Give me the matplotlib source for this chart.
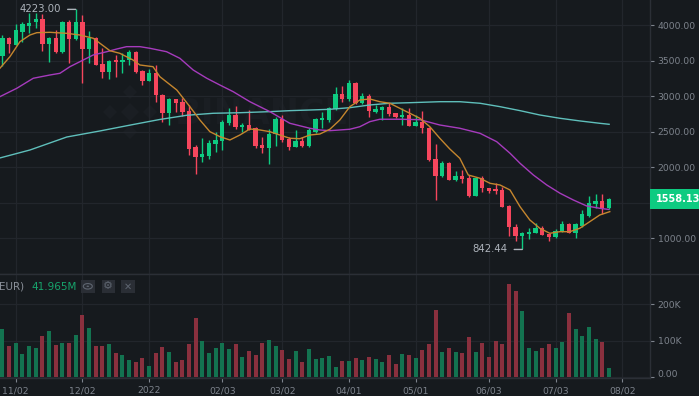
import numpy as np
import pandas as pd
import matplotlib
matplotlib.use("Agg")
import matplotlib.pyplot as plt
import matplotlib.dates as mdates
from matplotlib.patches import Rectangle, Polygon, Ellipse, Circle

# ---------------- data ----------------
base_date = pd.Timestamp("2021-11-02")
candle_dates = pd.date_range("2021-10-27", periods=92, freq="3D")

opens = [3570, 3820, 3722, 3909, 3990, 4045, 4093, 3733, 3816, 3619,
         4041, 3802, 4050, 3665, 3816, 3450, 3346, 3505, 3478, 3510,
         3627, 3356, 3219, 3332, 3018, 2768, 2957, 2923, 2792, 2281,
         2149, 2158, 2328, 2370, 2619, 2736, 2571, 2595, 2549, 2314,
         2276, 2469, 2676, 2394, 2290, 2374, 2300, 2501, 2666, 2666,
         2816, 3032, 2957, 3191, 2901, 3004, 2783, 2806, 2844, 2760,
         2704, 2736, 2581, 2642, 2557, 2112, 1877, 2064, 1821, 1877,
         1853, 1596, 1853, 1704, 1690, 1680, 1460, 1160, 1032, 1060,
         1079, 1141, 1056, 1014, 1093, 1201, 1079, 1173, 1314, 1483,
         1525, 1422]
highs = [3860, 3830, 4017, 4045, 4176, 4176, 4158, 3839, 3933, 4060,
         4074, 4223, 4144, 3923, 3835, 3675, 3510, 3581, 3613, 3651,
         3641, 3369, 3379, 3440, 3025, 2970, 2965, 2970, 2877, 2314,
         2416, 2384, 2501, 2666, 2830, 2863, 2628, 2806, 2560, 2422,
         2535, 2712, 2736, 2431, 2525, 2431, 2549, 2690, 2783, 2844,
         3126, 3144, 3229, 3205, 3042, 3032, 2877, 2863, 2909, 2769,
         2830, 2830, 2736, 2792, 2565, 2324, 2088, 2070, 1952, 1961,
         1891, 1860, 1877, 1710, 1783, 1718, 1469, 1201, 1093, 1141,
         1211, 1173, 1060, 1127, 1248, 1210, 1210, 1398, 1596, 1620,
         1624, 1570]
lows = [3420, 3605, 3720, 3768, 3886, 3956, 3630, 3487, 3605, 3605,
        3464, 3795, 3182, 3473, 3435, 3253, 3243, 3275, 3323, 3440,
        3332, 3158, 3210, 2923, 2642, 2595, 2783, 2722, 2173, 1905,
        2079, 2112, 2219, 2243, 2595, 2535, 2501, 2520, 2276, 2205,
        2046, 2300, 2360, 2243, 2285, 2281, 2290, 2487, 2549, 2642,
        2806, 2923, 2937, 2891, 2887, 2712, 2760, 2666, 2722, 2700,
        2595, 2575, 2575, 2487, 2095, 1539, 1863, 1815, 1811, 1783,
        1586, 1590, 1656, 1634, 1624, 1436, 1032, 966, 842.44, 986,
        1075, 1040, 962, 1000, 1088, 1070, 1000, 1165, 1305, 1422,
        1338, 1410]
closes = [3820, 3730, 3933, 4017, 4036, 4093, 3733, 3816, 3619, 4041,
          3802, 4050, 3665, 3825, 3440, 3346, 3496, 3480, 3510, 3627,
          3346, 3219, 3332, 3018, 2768, 2961, 2909, 2783, 2257, 2149,
          2183, 2346, 2384, 2642, 2736, 2563, 2595, 2525, 2300, 2276,
          2469, 2676, 2384, 2290, 2374, 2300, 2525, 2676, 2698, 2830,
          3032, 2957, 3191, 2901, 3004, 2797, 2816, 2844, 2746, 2704,
          2736, 2581, 2642, 2549, 2102, 1877, 2064, 1821, 1877, 1839,
          1596, 1853, 1704, 1670, 1666, 1445, 1160, 1032, 1079, 1093,
          1141, 1046, 1023, 1107, 1201, 1079, 1201, 1338, 1493, 1525,
          1422, 1558.13]
volumes_k = [132, 85, 95, 64, 86, 79, 113, 127, 88, 95,
             94, 116, 171, 134, 86, 86, 91, 67, 60, 47,
             41, 52, 30, 67, 82, 68, 41, 47, 92, 162,
             99, 66, 79, 93, 77, 91, 56, 72, 61, 95,
             103, 86, 75, 50, 73, 41, 78, 50, 54, 59,
             28, 45, 45, 52, 47, 55, 49, 41, 61, 36,
             65, 60, 53, 74, 91, 185, 68, 81, 70, 66,
             111, 69, 94, 55, 99, 90, 256, 236, 182, 81,
             71, 79, 92, 80, 97, 176, 132, 113, 137, 105,
             97, 26]

# moving averages (day offset from 2021-11-02, value)
ma7_days = [-7.1, -2.6, 1.9, 6.4, 9.5, 15.4, 22.9, 28.9, 34.9, 37.9, 42.4, 46.9,
            52.8, 55.9, 61.8, 64.9, 72.5, 78.4, 82.9, 87.4, 91.9, 96.4, 100.9,
            105.4, 109.9, 114.4, 118.9, 123.4, 127.9, 132.4, 136.9, 141.4, 145.9,
            150.4, 154.9, 159.4, 163.9, 168.4, 172.9, 177.4, 181.9, 186.4, 190.9,
            195.4, 199.9, 203.7, 209, 213.5, 218, 222.5, 227, 231.4, 235.9, 240.4,
            244.9, 249.4, 253.9, 258.4, 262.9, 267.4]
ma7_vals = [3394, 3557, 3768, 3862, 3895, 3900, 3886, 3862, 3816, 3746, 3641, 3604,
            3510, 3440, 3416, 3275, 3088, 2853, 2666, 2501, 2431, 2384, 2454,
            2539, 2525, 2501, 2454, 2408, 2402, 2454, 2468, 2535, 2666,
            2853, 2947, 2961, 2923, 2901, 2830, 2760, 2690, 2571, 2408,
            2257, 2126, 1891, 1845, 1774, 1750, 1680, 1445, 1258, 1141, 1070,
            1093, 1093, 1141, 1234, 1328, 1375]
ma25_days = [-7.1, 0.5, 7.9, 15.4, 19.9, 24.4, 30.4, 34.9, 41, 45.5, 49.9, 55.9,
             60.4, 67.9, 73.9, 79.9, 86, 91.9, 97.9, 105.4, 114.4, 123.4, 132.4,
             136.9, 141.4, 150.4, 154.9, 159.4, 163.9, 172.9, 181.9, 190.9, 199.9,
             209, 216.5, 222.5, 227, 233, 239, 245, 251, 257, 262.9, 267]
ma25_vals = [2994, 3112, 3253, 3299, 3323, 3416, 3510, 3581, 3627, 3665, 3698, 3698,
             3675, 3627, 3534, 3369, 3253, 3158, 3064, 2923, 2783, 2619, 2549,
             2525, 2515, 2535, 2571, 2642, 2676, 2676, 2670, 2595, 2549,
             2478, 2360, 2197, 2056, 1891, 1751, 1634, 1539, 1455, 1422, 1406]
ma99_days = [-7.1, 6.4, 23, 37.9, 52.9, 64.9, 77, 88.9, 100.9, 114.4, 123.4, 132.4,
             141.4, 150.4, 159.4, 168.4, 177.4, 190.9, 199.9, 209, 218, 227,
             235.9, 244.9, 254, 262.9, 267.1]
ma99_vals = [2131, 2243, 2426, 2511, 2602, 2673, 2732, 2760, 2768, 2783, 2797, 2806,
             2816, 2839, 2877, 2901, 2909, 2923, 2923, 2901, 2853, 2797,
             2736, 2690, 2652, 2619, 2605]

tick_dates = ["2021-11-02", "2021-12-02", "2022-01-01", "2022-02-03", "2022-03-02",
              "2022-04-01", "2022-05-01", "2022-06-03", "2022-07-03", "2022-08-02"]
tick_labels = ["11/02", "12/02", "2022", "02/03", "03/02", "04/01", "05/01",
               "06/03", "07/03", "08/02"]
price_ticks = [1000, 2000, 2500, 3000, 3500, 4000]
price_grid = [1000, 1500, 2000, 2500, 3000, 3500, 4000]
vol_ticks = [0, 100000, 200000]
vol_tick_labels = ["0.00", "100K", "200K"]
last_price_label = "1558.13"
vol_legend_value = "41.965M"

# ---------------- style ----------------
BG = "#161a1e"
GRID = "#22262c"
LINE = "#2b2f36"
TXT = "#7d838c"
UP = "#0ecb81"
DOWN = "#f6465d"
UP_V = "#137350"
DOWN_V = "#8a303e"
C_MA7 = "#c5862e"
C_MA25 = "#a63bbd"
C_MA99 = "#5fbfbb"
WM = "#1a1e23"

W, H = 699, 396
fig = plt.figure(figsize=(W / 100, H / 100), dpi=100, facecolor=BG)
plt.rcParams["font.family"] = ["DejaVu Sans"]


def px_axes(x0, y0, x1, y1):
    return fig.add_axes([x0 / W, 1 - y1 / H, (x1 - x0) / W, (y1 - y0) / H])


ax = px_axes(0, 0, 650, 274)
axv = px_axes(0, 274, 650, 378)

x = mdates.date2num(candle_dates)
b0 = mdates.date2num(base_date)
xlim = (b0 - 7.07, b0 + 285.5)

for a in (ax, axv):
    a.set_facecolor(BG)
    a.set_xlim(*xlim)
    for s in ("top", "left"):
        a.spines[s].set_visible(False)
    for s in ("right", "bottom"):
        a.spines[s].set_color(LINE)
        a.spines[s].set_linewidth(1.0)
    ticks = mdates.date2num(pd.to_datetime(tick_dates))
    a.set_xticks(ticks)
    a.grid(True, color=GRID, linewidth=0.9, zorder=0)
    a.set_axisbelow(True)

ax.set_ylim(497, 4355)
axv.set_ylim(-1900, 283000)

# faint watermark (logo + wordmark), positioned in axes fraction
wm_tr = ax.transAxes
cx, cy = 130 / 650, 1 - 112 / 274
dxu, dyu = 1 / 650, 1 / 274


def diamond(xc, yc, r):
    return Polygon([(xc, yc + r * dyu), (xc + r * dxu, yc), (xc, yc - r * dyu),
                    (xc - r * dxu, yc)], closed=True, transform=wm_tr,
                   facecolor=WM, edgecolor="none", zorder=0.5)


ax.add_patch(diamond(cx, cy, 9))
for ox, oy in ((-20, 0), (20, 0), (0, 20), (0, -20)):
    ax.add_patch(diamond(cx + ox * dxu, cy + oy * dyu, 7))
ax.text(262 / 650, 1 - 114 / 274, "BINANCE", transform=wm_tr, fontsize=25,
        fontweight="bold", color=WM, ha="center", va="center", zorder=0.5)

# candles
body_w = 1.95
for xi, o, h, l, c in zip(x, opens, highs, lows, closes):
    col = UP if c >= o else DOWN
    ax.vlines(xi, l, h, color=col, linewidth=1.0, zorder=3)
    bot = min(o, c)
    hgt = max(abs(c - o), 12)
    ax.bar(xi, hgt, bottom=bot, width=body_w, color=col, linewidth=0, zorder=4)

# moving averages
ax.plot(b0 + np.array(ma99_days), ma99_vals, color=C_MA99, lw=1.0, zorder=5)
ax.plot(b0 + np.array(ma25_days), ma25_vals, color=C_MA25, lw=1.0, zorder=5)
ax.plot(b0 + np.array(ma7_days), ma7_vals, color=C_MA7, lw=1.0, zorder=5)

# high / low annotations
ih = int(np.argmax(highs))
il = int(np.argmin(lows))
for idx, val in ((ih, highs[ih]), (il, lows[il])):
    ax.annotate(f"{val:.2f}", xy=(x[idx], val), xytext=(-15, 0),
                textcoords="offset pixels", ha="right", va="center",
                fontsize=7.3, color="#aeb4bc",
                arrowprops=dict(arrowstyle="-", color="#aeb4bc", lw=1.0,
                                shrinkA=3, shrinkB=0))

# price axis
ax.yaxis.tick_right()
ax.set_yticks(price_grid)
ax.set_yticklabels([f"{v:.2f}" if v in price_ticks else "" for v in price_grid])
ax.tick_params(axis="y", colors=TXT, labelcolor=TXT, length=3, width=0.8, pad=2.5,
               labelsize=6.7)
ax.tick_params(axis="x", bottom=False, labelbottom=False)

# volume
vol = np.array(volumes_k) * 1000
vcols = [UP_V if c >= o else DOWN_V for o, c in zip(opens, closes)]
axv.bar(x, vol, width=1.85, color=vcols, linewidth=0, zorder=3)
axv.yaxis.tick_right()
axv.set_yticks(vol_ticks)
axv.set_yticklabels(vol_tick_labels)
axv.tick_params(axis="y", colors=TXT, labelcolor=TXT, length=3, width=0.8, pad=2.5,
                labelsize=6.7)
for lab in axv.get_yticklabels():
    if lab.get_text() == "0.00":
        lab.set_va("baseline")
axv.set_xticklabels(tick_labels)
axv.tick_params(axis="x", colors=TXT, labelcolor=TXT, length=3, width=0.8, pad=3,
                labelsize=6.7)

# separator across the price axis column
fig.add_artist(plt.Line2D([0, 1], [1 - 274 / H, 1 - 274 / H], color=LINE, lw=1.0,
                          transform=fig.transFigure))

# last price box
fig.add_artist(Rectangle((650 / W, 1 - 209 / H), 49 / W, 20 / H, transform=fig.transFigure,
                         facecolor=UP, edgecolor="none"))
fig.text(678 / W, 1 - 199 / H, last_price_label, color="white", fontsize=7,
         fontweight="bold", ha="center", va="center")

# volume legend
fig.text(-1 / W, 1 - 286.5 / H, "EUR)", color="#8a9099", fontsize=7.5, ha="left", va="center")
fig.text(31 / W, 1 - 286.5 / H, vol_legend_value, color="#17a46c", fontsize=7.5,
         ha="left", va="center")
for bx in (81, 101.5, 121):
    fig.add_artist(Rectangle((bx / W, 1 - 293 / H), 13.5 / W, 13.5 / H,
                             transform=fig.transFigure, facecolor="#2a2e35",
                             edgecolor="none"))
fig.add_artist(Ellipse((87.8 / W, 1 - 286.3 / H), 9 / W, 5.5 / H, transform=fig.transFigure,
                       facecolor="none", edgecolor="#5e6570", lw=0.8))
fig.add_artist(Circle((87.8 / W, 1 - 286.3 / H), 1.3 / W, transform=fig.transFigure,
                      facecolor="#5e6570", edgecolor="none"))
fig.text(108.2 / W, 1 - 286.3 / H, "\u2699", color="#5e6570", fontsize=8, ha="center",
         va="center")
fig.text(127.8 / W, 1 - 286.3 / H, "\u2715", color="#5e6570", fontsize=7, ha="center",
         va="center")

fig.savefig("out.png", dpi=100, facecolor=BG)
